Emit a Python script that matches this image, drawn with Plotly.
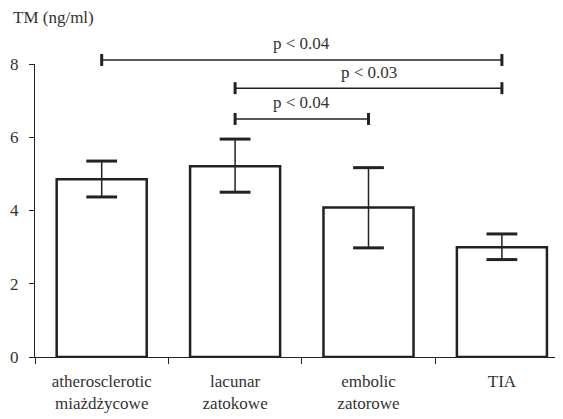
import plotly.graph_objects as go

categories = ["atherosclerotic<br>miażdżycowe", "lacunar<br>zatokowe", "embolic<br>zatorowe", "TIA"]
means = [4.85, 5.21, 4.08, 3.00]
upper = [5.35, 5.95, 5.17, 3.36]
lower = [4.37, 4.50, 2.98, 2.66]
y_ticks = [0, 2, 4, 6, 8]
y_title = "TM (ng/ml)"

# significance brackets: (from index, to index, level, label)
brackets = [
    (0, 3, 8.11, "p < 0.04"),
    (1, 3, 7.34, "p < 0.03"),
    (1, 2, 6.50, "p < 0.04"),
]

FONT = "Times New Roman, Liberation Serif, serif"
FS = 17
INK = "#222222"
TXT = "#333333"
XMIN, XMAX = -0.5, 3.458
YMIN, YMAX = 0, 8
PLOT_W, PLOT_H = 528, 293

idx = list(range(len(categories)))

fig = go.Figure()
fig.add_trace(go.Bar(
    x=idx, y=means, width=0.675,
    marker=dict(color="white", line=dict(color=INK, width=2.5)),
    error_y=dict(type="data", symmetric=False,
                 array=[u - m for u, m in zip(upper, means)],
                 arrayminus=[m - l for m, l in zip(means, lower)],
                 color=INK, thickness=1.5, width=11),
    showlegend=False,
))
# thicker caps
fig.add_trace(go.Scatter(
    x=idx + idx, y=upper + lower, mode="markers",
    marker=dict(symbol="line-ew", size=22, line=dict(color=INK, width=3)),
    showlegend=False, hoverinfo="skip", cliponaxis=False,
))

def px(v):
    return (v - XMIN) / (XMAX - XMIN)

def py(v):
    return (v - YMIN) / (YMAX - YMIN)

tick_half = 6 / PLOT_H
for a, b, lvl, lab in brackets:
    fig.add_shape(type="line", xref="paper", yref="paper",
                  x0=px(a), x1=px(b), y0=py(lvl), y1=py(lvl),
                  line=dict(color=INK, width=1.5))
    for e in (a, b):
        fig.add_shape(type="line", xref="paper", yref="paper",
                      x0=px(e), x1=px(e), y0=py(lvl) - tick_half, y1=py(lvl) + tick_half,
                      line=dict(color=INK, width=3))
    fig.add_annotation(x=px((a + b) / 2), y=py(lvl), xref="paper", yref="paper", text=lab,
                       showarrow=False, yanchor="middle", yshift=16,
                       font=dict(family=FONT, size=FS, color=TXT))

fig.add_annotation(x=(11 - 35) / PLOT_W, y=1 + (64 - 17) / PLOT_H, xref="paper", yref="paper",
                   text=y_title, showarrow=False, xanchor="left", yanchor="middle",
                   font=dict(family=FONT, size=FS, color=TXT))

fig.update_layout(
    width=555, height=411,
    margin=dict(l=27, r=0, t=56, b=62),
    plot_bgcolor="white", paper_bgcolor="white",
    font=dict(family=FONT, size=FS, color=TXT),
)
fig.update_xaxes(
    type="linear", range=[XMIN, XMAX], tickmode="array",
    tickvals=idx, ticktext=categories, ticks="", showgrid=False, zeroline=False,
    showline=True, linecolor=INK, linewidth=1.2, ticklabelstandoff=8,
)
# boundary ticks via minor ticks
fig.update_xaxes(minor=dict(tickmode="array", tickvals=[i - 0.5 for i in idx] + [len(idx) - 0.5],
                            ticks="outside", ticklen=6, tickcolor=INK, tickwidth=1.2, showgrid=False))
fig.update_yaxes(
    range=[YMIN, YMAX], tickmode="array", tickvals=y_ticks, ticks="outside", ticklen=5,
    tickcolor=INK, tickwidth=1.2, showgrid=False, zeroline=False, ticklabelstandoff=7,
    showline=True, linecolor=INK, linewidth=1.2,
)

fig.write_html("out.html")
